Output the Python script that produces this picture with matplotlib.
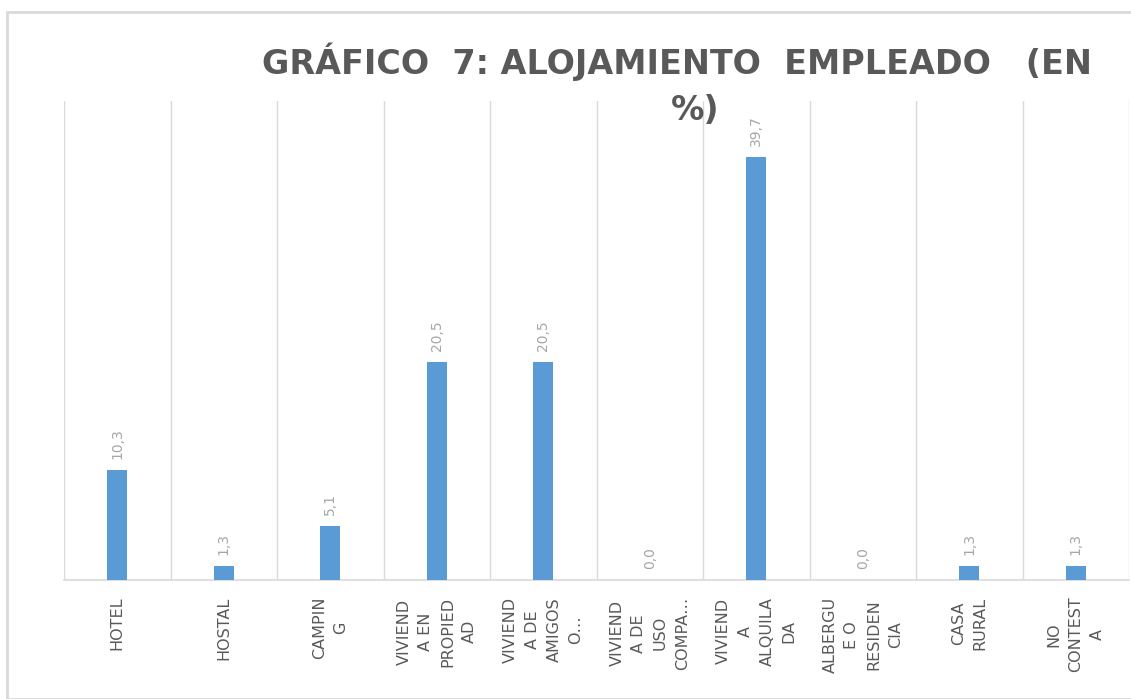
import matplotlib
matplotlib.use("Agg")
import matplotlib.pyplot as plt
from matplotlib.patches import Rectangle

categories = ["HOTEL", "HOSTAL", "CAMPIN\nG", "VIVIEND\nA EN\nPROPIED\nAD",
              "VIVIEND\nA DE\nAMIGOS\nO…", "VIVIEND\nA DE\nUSO\nCOMPA…",
              "VIVIEND\nA\nALQUILA\nDA", "ALBERGU\nE O\nRESIDEN\nCIA",
              "CASA\nRURAL", "NO\nCONTEST\nA"]
values = [10.3, 1.3, 5.1, 20.5, 20.5, 0.0, 39.7, 0.0, 1.3, 1.3]
value_labels = ["10,3", "1,3", "5,1", "20,5", "20,5", "0,0", "39,7", "0,0", "1,3", "1,3"]

W, H = 1131, 699
fig = plt.figure(figsize=(W/100, H/100), dpi=100)
ax = fig.add_axes([64/W, 1-580/H, (1129-64)/W, (580-101)/H])

x = list(range(len(values)))
ax.bar(x, values, width=0.19, color="#5b9bd5", zorder=3)
ax.set_xlim(-0.5, len(values)-0.5)
ax.set_ylim(0, 45)

for xi, v, lab in zip(x, values, value_labels):
    ax.annotate(lab, (xi, v), xytext=(0, 8), textcoords="offset points",
                rotation=90, ha="center", va="bottom", color="#a6a6a6", fontsize=10)

for b in [i-0.5 for i in range(len(values)+1)]:
    ax.axvline(b, color="#d9d9d9", lw=1, zorder=1)

for s in ["top", "left", "right"]:
    ax.spines[s].set_visible(False)
ax.spines["bottom"].set_color("#d9d9d9")
ax.spines["bottom"].set_linewidth(1.2)
ax.set_yticks([])
ax.set_xticks(x)
ax.set_xticklabels(categories, rotation=90, ha="center", va="top",
                   color="#595959", fontsize=11.5, linespacing=1.55)
ax.tick_params(axis="x", length=0, pad=12)

fig.patches.append(Rectangle((7/W, 0), 1.2, 1-12/H, transform=fig.transFigure,
                             fill=False, edgecolor="#d9d9d9", lw=2))

fig.text(262/W, 1-62/H, "GRÁFICO  7: ALOJAMIENTO  EMPLEADO   (EN", ha="left", va="center",
         fontsize=24, fontweight="bold", color="#595959", family="DejaVu Sans")
fig.text(695/W, 1-110/H, "%)", ha="center", va="center",
         fontsize=24, fontweight="bold", color="#595959", family="DejaVu Sans")

fig.savefig("out.png", dpi=100)
